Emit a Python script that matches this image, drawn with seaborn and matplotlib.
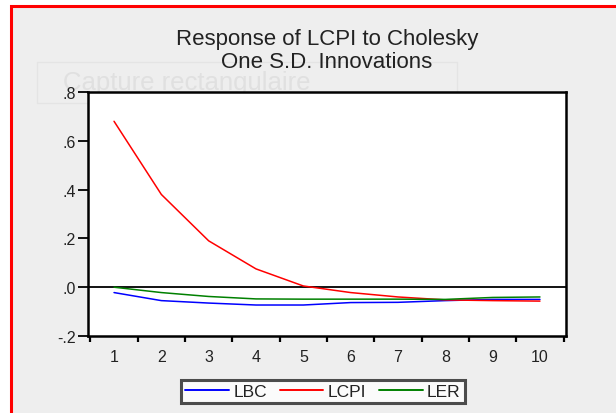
import numpy as np
import pandas as pd
import matplotlib
matplotlib.use("Agg")
import matplotlib.pyplot as plt
import seaborn as sns
from matplotlib.patches import Rectangle

# Impulse response values
periods = [1, 2, 3, 4, 5, 6, 7, 8, 9, 10]
lbc = [-0.022, -0.055, -0.065, -0.073, -0.073, -0.063, -0.062, -0.055, -0.050, -0.050]
lcpi = [0.68, 0.38, 0.19, 0.075, 0.005, -0.022, -0.040, -0.052, -0.055, -0.057]
ler = [0.0, -0.022, -0.038, -0.048, -0.049, -0.049, -0.049, -0.050, -0.042, -0.040]
y_ticks = [-0.2, 0.0, 0.2, 0.4, 0.6, 0.8]
y_labels = ["-.2", ".0", ".2", ".4", ".6", ".8"]

df = pd.DataFrame({
    "Period": periods * 3,
    "Response": lbc + lcpi + ler,
    "Shock": ["LBC"] * 10 + ["LCPI"] * 10 + ["LER"] * 10,
})

sns.set_style("white")
plt.rcParams["font.family"] = ["Liberation Sans", "DejaVu Sans"]
txt = "#222222"

fig = plt.figure(figsize=(6.16, 4.14), dpi=100)
fig.patch.set_facecolor("white")
W, H = 616, 414

# gray window background with red capture border
fig.patches.append(Rectangle((11 / W, -0.05), 1.0, (H - 7) / H + 0.05,
                             transform=fig.transFigure, facecolor="#eeeeee",
                             edgecolor="red", linewidth=2.2, zorder=-10))

# faint overlay left by the screen capture tool
fig.patches.append(Rectangle((37 / W, (H - 104) / H), 420 / W, 41 / H,
                             transform=fig.transFigure, facecolor="none",
                             edgecolor="#e4e4e4", linewidth=1, zorder=-9))
fig.text(63 / W, (H - 83) / H, "Capture rectangulaire", fontsize=18.5,
         color="#e0e0e0", va="center", ha="left", zorder=-8)

ax = fig.add_axes([88 / W, (H - 337) / H, 478 / W, 244 / H])
ax.set_facecolor("white")

palette = {"LBC": "#0000ff", "LCPI": "#ff0000", "LER": "#008000"}
sns.lineplot(data=df, x="Period", y="Response", hue="Shock", palette=palette,
             linewidth=1.1, ax=ax, legend=False)
ax.axhline(0, color="black", linewidth=1.3, zorder=1)

ax.set_xlim(0.45, 10.55)
ax.set_ylim(-0.2, 0.8)
ax.set_yticks(y_ticks)
ax.set_yticklabels(y_labels)
ax.set_xticks(periods)
ax.set_xticklabels([str(p) for p in periods])
ax.set_xticks(np.arange(0.5, 11, 1.0), minor=True)
ax.tick_params(axis="x", which="major", length=0, pad=9.5, labelsize=11.5, labelcolor=txt)
ax.tick_params(axis="x", which="minor", length=4.5, width=1.6, direction="out", color="black")
ax.tick_params(axis="y", length=7, width=1.3, direction="out", color="black",
               labelsize=11.5, pad=1.5, labelcolor=txt)
ax.tick_params(left=True, bottom=True, which="both")
ax.set_xlabel("")
ax.set_ylabel("")
for s in ax.spines.values():
    s.set_color("black")
    s.set_linewidth(1.8)

# two-line title centred over the frame
fig.text(327 / W, (H - 40) / H, "Response of LCPI to Cholesky", fontsize=16,
         ha="center", va="center", color=txt)
fig.text(327 / W, (H - 62) / H, "One S.D. Innovations", fontsize=16,
         ha="center", va="center", color=txt)

handles = [plt.Line2D([], [], color=palette[k], linewidth=1.4) for k in ["LBC", "LCPI", "LER"]]
leg = fig.legend(handles, ["LBC", "LCPI", "LER"], loc="center",
                 bbox_to_anchor=(323 / W, (H - 392.5) / H), ncol=3,
                 fontsize=12.5, frameon=True, fancybox=False, handlelength=2.5,
                 columnspacing=0.75, handletextpad=0.25, borderpad=0.25,
                 borderaxespad=0)
for t in leg.get_texts():
    t.set_color(txt)
leg.get_frame().set_edgecolor("#222222")
leg.get_frame().set_linewidth(2.2)
leg.get_frame().set_facecolor("white")

plt.savefig("out.png", dpi=100)
